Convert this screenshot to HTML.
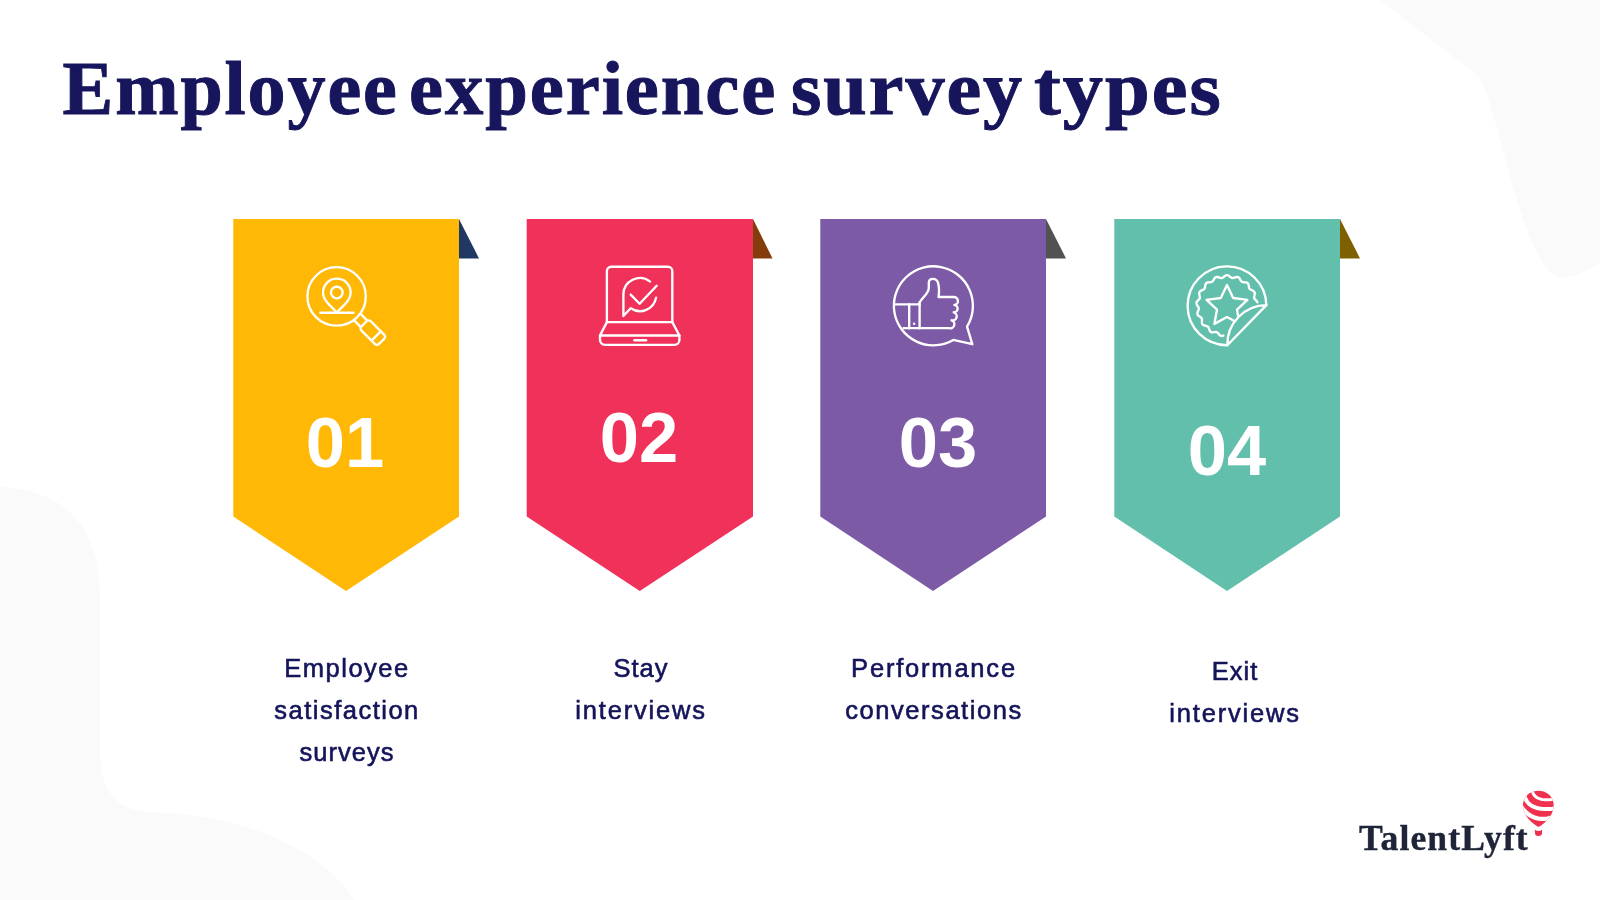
<!DOCTYPE html>
<html lang="en">
<head>
<meta charset="utf-8">
<title>Employee experience survey types</title>
<style>
  html, body { margin: 0; padding: 0; }
  body {
    width: 1600px; height: 900px; overflow: hidden; position: relative;
    background: #ffffff;
    font-family: "Liberation Sans", sans-serif;
  }
  .title, .num, .label, .logo { will-change: transform; }
  #art { position: absolute; left: 0; top: 0; width: 1600px; height: 900px; display: block; }
  .title {
    position: absolute; left: 0; top: 0; margin: 0;
    font-family: "Liberation Serif", serif; font-weight: bold;
    font-size: 76px; line-height: 76px; color: #17155c;
    white-space: nowrap; transform-origin: 0 0;
    -webkit-text-stroke: 1px #17155c;
  }
  .title .w { position: absolute; top: 0; display: block; transform-origin: 0 0; }
  .num {
    position: absolute; width: 226px; text-align: center;
    font-family: "Liberation Sans", sans-serif; font-weight: bold;
    font-size: 70.5px; line-height: 70.5px; color: #ffffff; white-space: nowrap;
  }
  .label {
    position: absolute; width: 300px; text-align: center;
    font-family: "Liberation Sans", sans-serif; font-weight: normal;
    font-size: 25.5px; line-height: 42px; color: #14145a;
    letter-spacing: 1px; white-space: nowrap;
    -webkit-text-stroke: 0.6px #14145a;
  }
  .logo {
    position: absolute; margin: 0;
    font-family: "Liberation Serif", serif; font-weight: bold;
    font-size: 35.6px; line-height: 36px; color: #1f2438; white-space: nowrap;
    transform-origin: 0 0; -webkit-text-stroke: 0.4px #1f2438;
  }
</style>
</head>
<body>
<svg id="art" viewBox="0 0 1600 900" width="1600" height="900">
  <!-- background blobs -->
  <path d="M1380 0 L1477 75 C1495 90 1520 260 1557 277 C1570 280 1590 268 1600 264 L1600 0 Z" fill="#fafafa"/>
  <path d="M0 487 C60 490 100 520 100 600 L100 750 C100 790 115 810 150 812 C250 815 320 850 355 900 L0 900 Z" fill="#fafafa"/>

  <!-- banners -->
  <g id="banners">
    <path d="M459 219 L479 258.4 L459 258.4 Z" fill="#1f3864"/>
    <path d="M233.3 219 H459 V516.5 L346 591 L233.3 516.5 Z" fill="#ffb805"/>

    <path d="M753 219 L772.5 258.4 L753 258.4 Z" fill="#843c0c"/>
    <path d="M526.7 219 H753 V516.5 L639.8 591 L526.7 516.5 Z" fill="#f0325a"/>

    <path d="M1046 219 L1066 258.4 L1046 258.4 Z" fill="#525252"/>
    <path d="M820.3 219 H1046 V516.5 L933 591 L820.3 516.5 Z" fill="#7c5aa6"/>

    <path d="M1340 219 L1360 258.4 L1340 258.4 Z" fill="#7f6000"/>
    <path d="M1114.3 219 H1340 V516.5 L1227 591 L1114.3 516.5 Z" fill="#62bfab"/>
  </g>

  <!-- icons -->
  <g id="icons" fill="none" stroke="#ffffff" stroke-width="2.35" stroke-linecap="round" stroke-linejoin="round">
    <!-- 1: magnifier + pin -->
    <g id="ic1">
      <circle cx="336.6" cy="296.4" r="29.2"/>
      <path d="M336.85 312.2 C342.7 306.5 348.2 302 349.77 297.05 A13.75 13.75 0 1 0 323.93 297.05 C325.5 302 331 306.5 336.85 312.2 Z"/>
      <circle cx="336.8" cy="292.5" r="5.8"/>
      <path d="M320.5 312.7 H353.5"/>
      <g transform="translate(336.6 296.4) rotate(45)">
        <path d="M29.4 -4.6 H38.5 M29.4 4.6 H38.5"/>
        <rect x="38.8" y="-6.6" width="24.8" height="13.2" rx="3"/>
        <path d="M56 -6.6 V6.6"/>
      </g>
    </g>
    <!-- 2: laptop + chat check -->
    <g id="ic2">
      <path d="M606.9 322.1 V271 a4.3 4.3 0 0 1 4.3 -4.3 H668 a4.3 4.3 0 0 1 4.3 4.3 V322.1 Z"/>
      <path d="M606.9 322.1 L600 335.5 H679.4 L672.3 322.1"/>
      <path d="M600 335.5 V340 a4.9 4.9 0 0 0 4.9 4.9 H674.5 a4.9 4.9 0 0 0 4.9 -4.9 V335.5"/>
      <path d="M634.5 340.2 H646" stroke-width="2.6"/>
      <path d="M650.06 281.6 A16.5 16.5 0 0 0 623.4 294.6 L623.4 316 L630.7 308.3 A16.5 16.5 0 0 0 656.1 297.6"/>
      <path d="M630.7 294.6 L639.6 303.8 L656.7 285.8"/>
    </g>
    <!-- 3: thumbs up in bubble -->
    <g id="ic3">
      <path d="M967 326.56 A39.5 39.5 0 1 0 953.27 339.94 L972.3 344.2 Z"/>
      <path d="M895.5 304.4 H919.6"/>
      <path d="M909.2 304.4 V328.2 M919.6 302.5 V328.2"/>
      <path d="M919.6 302.5 C922.5 297 928.8 293.5 928.8 287.9 V282.5 C928.8 277.5 936.5 277.8 937.9 282.4 C939.3 287 939.3 292 938.5 297 H953.5 a4 4 0 0 1 0.8 8 a3.65 3.65 0 0 1 -0.6 7.3 a4 4 0 0 1 -2.2 8 a3.95 3.95 0 0 1 -2.5 7.9 H903.5"/>
      <circle cx="914.1" cy="323.7" r="1.2" fill="#ffffff" stroke="none"/>
    </g>
    <!-- 4: sticker star -->
    <g id="ic4">
      <path d="M1257.4 302.3 L1257.2 301.8 L1256.9 301.4 L1256.6 301.0 L1256.2 300.6 L1255.9 300.3 L1255.5 299.9 L1255.1 299.5 L1254.8 299.2 L1254.5 298.8 L1254.3 298.4 L1254.2 298.0 L1254.1 297.6 L1254.1 297.1 L1254.2 296.7 L1254.3 296.2 L1254.4 295.7 L1254.5 295.2 L1254.6 294.6 L1254.7 294.1 L1254.8 293.6 L1254.8 293.1 L1254.7 292.6 L1254.5 292.2 L1254.3 291.8 L1254.0 291.5 L1253.6 291.1 L1253.2 290.8 L1252.8 290.6 L1252.3 290.4 L1251.8 290.1 L1251.3 289.9 L1250.9 289.7 L1250.4 289.5 L1250.1 289.2 L1249.7 288.9 L1249.5 288.6 L1249.3 288.2 L1249.1 287.8 L1249.0 287.4 L1248.9 286.9 L1248.9 286.3 L1248.8 285.8 L1248.7 285.3 L1248.6 284.8 L1248.4 284.3 L1248.2 283.8 L1248.0 283.4 L1247.7 283.1 L1247.3 282.8 L1246.9 282.6 L1246.4 282.5 L1245.9 282.4 L1245.4 282.3 L1244.9 282.3 L1244.3 282.2 L1243.8 282.2 L1243.3 282.2 L1242.9 282.1 L1242.4 282.0 L1242.0 281.8 L1241.7 281.6 L1241.4 281.3 L1241.1 280.9 L1240.8 280.6 L1240.5 280.1 L1240.3 279.7 L1240.0 279.2 L1239.8 278.7 L1239.5 278.3 L1239.1 277.9 L1238.8 277.6 L1238.4 277.3 L1238.0 277.1 L1237.5 277.0 L1237.1 277.0 L1236.6 277.0 L1236.1 277.1 L1235.6 277.3 L1235.0 277.4 L1234.5 277.6 L1234.0 277.8 L1233.6 277.9 L1233.1 278.0 L1232.7 278.0 L1232.3 278.0 L1231.8 277.9 L1231.4 277.7 L1231.0 277.5 L1230.7 277.2 L1230.3 276.9 L1229.9 276.5 L1229.4 276.2 L1229.0 275.9 L1228.6 275.6 L1228.1 275.4 L1227.7 275.2 L1227.2 275.1 L1226.8 275.1 L1226.3 275.2 L1225.9 275.4 L1225.4 275.6 L1225.0 275.9 L1224.6 276.2 L1224.2 276.5 L1223.8 276.9 L1223.4 277.2 L1223.0 277.5 L1222.6 277.7 L1222.2 277.9 L1221.8 278.0 L1221.3 278.0 L1220.9 278.0 L1220.4 277.9 L1220.0 277.8 L1219.5 277.6 L1219.0 277.4 L1218.5 277.3 L1217.9 277.1 L1217.4 277.0 L1216.9 277.0 L1216.5 277.0 L1216.0 277.1 L1215.6 277.3 L1215.2 277.6 L1214.9 277.9 L1214.5 278.3 L1214.2 278.7 L1214.0 279.2 L1213.7 279.6 L1213.5 280.1 L1213.2 280.5 L1212.9 280.9 L1212.6 281.3 L1212.3 281.6 L1212.0 281.8 L1211.6 282.0 L1211.1 282.1 L1210.7 282.2 L1210.2 282.2 L1209.7 282.2 L1209.1 282.3 L1208.6 282.3 L1208.1 282.4 L1207.6 282.5 L1207.1 282.6 L1206.7 282.8 L1206.3 283.1 L1206.0 283.4 L1205.8 283.8 L1205.6 284.3 L1205.4 284.8 L1205.3 285.3 L1205.2 285.8 L1205.1 286.3 L1205.1 286.9 L1205.0 287.4 L1204.9 287.8 L1204.7 288.2 L1204.5 288.6 L1204.3 288.9 L1203.9 289.2 L1203.6 289.5 L1203.1 289.7 L1202.7 289.9 L1202.2 290.1 L1201.7 290.4 L1201.2 290.6 L1200.8 290.8 L1200.4 291.1 L1200.0 291.4 L1199.7 291.8 L1199.5 292.2 L1199.3 292.6 L1199.2 293.1 L1199.2 293.6 L1199.3 294.1 L1199.4 294.6 L1199.5 295.2 L1199.6 295.7 L1199.7 296.2 L1199.8 296.7 L1199.9 297.1 L1199.9 297.6 L1199.8 298.0 L1199.7 298.4 L1199.5 298.8 L1199.2 299.1 L1198.9 299.5 L1198.5 299.9 L1198.1 300.2 L1197.8 300.6 L1197.4 301.0 L1197.1 301.4 L1196.8 301.8 L1196.6 302.3 L1196.5 302.7 L1196.4 303.2 L1196.5 303.6 L1196.6 304.1 L1196.8 304.6 L1197.0 305.0 L1197.3 305.5 L1197.6 305.9 L1197.9 306.4 L1198.2 306.8 L1198.4 307.2 L1198.6 307.6 L1198.8 308.0 L1198.8 308.4 L1198.8 308.9 L1198.8 309.3 L1198.6 309.8 L1198.5 310.2 L1198.2 310.7 L1198.0 311.2 L1197.8 311.7 L1197.6 312.2 L1197.5 312.6 L1197.4 313.1 L1197.4 313.6 L1197.4 314.1 L1197.6 314.5 L1197.8 314.9 L1198.1 315.3 L1198.4 315.7 L1198.8 316.0 L1199.3 316.3 L1199.7 316.6 L1200.2 316.9 L1200.6 317.2 L1200.9 317.5 L1201.3 317.8 L1201.5 318.2 L1201.7 318.5 L1201.9 318.9 L1201.9 319.4 L1202.0 319.9 L1202.0 320.4 L1201.9 320.9 L1201.9 321.4 L1201.9 321.9 L1201.9 322.5 L1202.0 323.0 L1202.1 323.4 L1202.2 323.9 L1202.5 324.3 L1202.8 324.6 L1203.2 324.9 L1203.6 325.2 L1204.1 325.4 L1204.6 325.5 L1205.1 325.6 L1205.6 325.8 L1206.1 325.9 L1206.6 326.0 L1207.0 326.2 L1207.4 326.4 L1207.8 326.6 L1208.1 326.9 L1208.4 327.2 L1208.6 327.6 L1208.8 328.1 L1209.0 328.5 L1209.1 329.0 L1209.3 329.5 L1209.5 330.0 L1209.7 330.5 L1209.9 331.0 L1210.2 331.4 L1210.5 331.7 L1210.9 331.9 L1211.3 332.1 L1211.8 332.3 L1212.3 332.3 L1212.8 332.3 L1213.3 332.3 L1213.8 332.2 L1214.4 332.1 L1214.9 332.1 L1215.4 332.0 L1215.8 332.0 L1216.3 332.1 L1216.7 332.2 L1217.1 332.3 L1217.5 332.6 L1217.8 332.9 L1218.1 333.2 L1218.5 333.6 L1218.8 334.0 L1219.1 334.4 L1219.5 334.8 L1219.9 335.2 L1220.3 335.5 L1220.7 335.7 L1221.1 335.9 L1221.6 336.0 L1222.0 336.0 L1222.5 335.9 L1223.0 335.8 L1223.4 335.6"/>
      <path d="M1227.0 285.0 L1233.2 298.0 L1247.4 299.9 L1237.0 309.7 L1239.6 323.9 L1227.0 317.0 L1214.4 323.9 L1217.0 309.7 L1206.6 299.9 L1220.8 298.0 Z"/>
      <path d="M1227.3 345.2 A39.4 39.4 0 0 1 1266.4 305.1 Z" fill="#62bfab"/>
      <path d="M1266.4 305.1 A39.4 39.4 0 1 0 1227.3 345.2"/>
    </g>
  </g>

  <!-- logo balloon -->
  <g id="balloon">
    <clipPath id="bclip"><path d="M1538.3 790.83 C1546.82 790.83 1553.68 796.97 1553.68 805.27 C1553.68 813.94 1547.55 821.88 1538.52 826.93 C1529.49 821.88 1523 813.94 1523 805.27 C1523 796.97 1529.86 790.83 1538.3 790.83 Z"/></clipPath>
    <path d="M1538.3 790.83 C1546.82 790.83 1553.68 796.97 1553.68 805.27 C1553.68 813.94 1547.55 821.88 1538.52 826.93 C1529.49 821.88 1523 813.94 1523 805.27 C1523 796.97 1529.86 790.83 1538.3 790.83 Z" fill="#f0304f"/>
    <g clip-path="url(#bclip)" fill="none" stroke="#ffffff" stroke-linecap="butt">
      <path d="M1531.96 785.83 L1531.94 787.43 L1532.02 788.94 L1532.22 790.35 L1532.54 791.66 L1532.97 792.87 L1533.52 793.98 L1534.19 795.00 L1534.97 795.92 L1535.86 796.75 L1536.87 797.47 L1538.00 798.10 L1539.24 798.63 L1540.60 799.06 L1542.07 799.40 L1543.66 799.63 L1545.36 799.77 L1547.18 799.82 L1549.12 799.76 L1551.17 799.61 L1553.34 799.36 L1555.62 799.01 L1558.01 798.56 L1560.53 798.02 L1563.16 797.38" stroke-width="3"/>
      <path d="M1523.83 789.94 L1523.94 792.13 L1524.20 794.20 L1524.61 796.13 L1525.18 797.93 L1525.90 799.59 L1526.78 801.11 L1527.81 802.50 L1528.99 803.76 L1530.33 804.88 L1531.82 805.87 L1533.47 806.72 L1535.27 807.44 L1537.23 808.02 L1539.33 808.47 L1541.60 808.78 L1544.01 808.96 L1546.58 809.00 L1549.31 808.91 L1552.19 808.68 L1555.22 808.32 L1558.40 807.83 L1561.74 807.20 L1565.24 806.43 L1568.89 805.53" stroke-width="4"/>
      <path d="M1517.96 801.39 L1519.15 803.54 L1520.39 805.55 L1521.68 807.42 L1523.03 809.15 L1524.42 810.74 L1525.87 812.19 L1527.37 813.49 L1528.92 814.66 L1530.52 815.68 L1532.17 816.56 L1533.88 817.31 L1535.63 817.91 L1537.44 818.37 L1539.30 818.68 L1541.21 818.86 L1543.17 818.89 L1545.18 818.79 L1547.24 818.54 L1549.36 818.15 L1551.52 817.62 L1553.74 816.95 L1556.01 816.14 L1558.33 815.19 L1560.70 814.09" stroke-width="4.3"/>
    </g>
    <path d="M1534.9 829.8 Q1538.5 832.2 1542.1 829.8 V832.5 a3.6 3.6 0 0 1 -7.2 0 Z" fill="#f0304f"/>
  </g>
</svg>

<h1 class="title" id="title" style="left:0; top:49.8px; letter-spacing:1.9px;">
  <span class="w" style="left:62.6px;">Employee</span>
  <span class="w" style="left:408.8px; transform:scaleX(1.0087);">experience</span>
  <span class="w" style="left:791px; transform:scaleX(1.028);">survey</span>
  <span class="w" style="left:1034px; transform:scaleX(1.058);">types</span>
</h1>

<div class="num" style="left:231.7px; top:408px;">01</div>
<div class="num" style="left:526px; top:403.2px;">02</div>
<div class="num" style="left:825.3px; top:408px;">03</div>
<div class="num" style="left:1114.3px; top:416px;">04</div>

<div class="label" style="left:197px; top:647px;"><span style="letter-spacing:1.5px">Employee</span><br><span style="letter-spacing:1.5px">satisfaction</span><br>surveys</div>
<div class="label" style="left:490.5px; top:647px;">Stay<br><span style="letter-spacing:1.8px">interviews</span></div>
<div class="label" style="left:784.2px; top:647px;"><span style="letter-spacing:1.8px">Performance</span><br><span style="letter-spacing:1.55px">conversations</span></div>
<div class="label" style="left:1084.8px; top:650px;">Exit<br><span style="letter-spacing:1.8px">interviews</span></div>

<div class="logo" id="logo" style="left:1359px; top:819.6px; letter-spacing:1.1px;">TalentLyft</div>
</body>
</html>
